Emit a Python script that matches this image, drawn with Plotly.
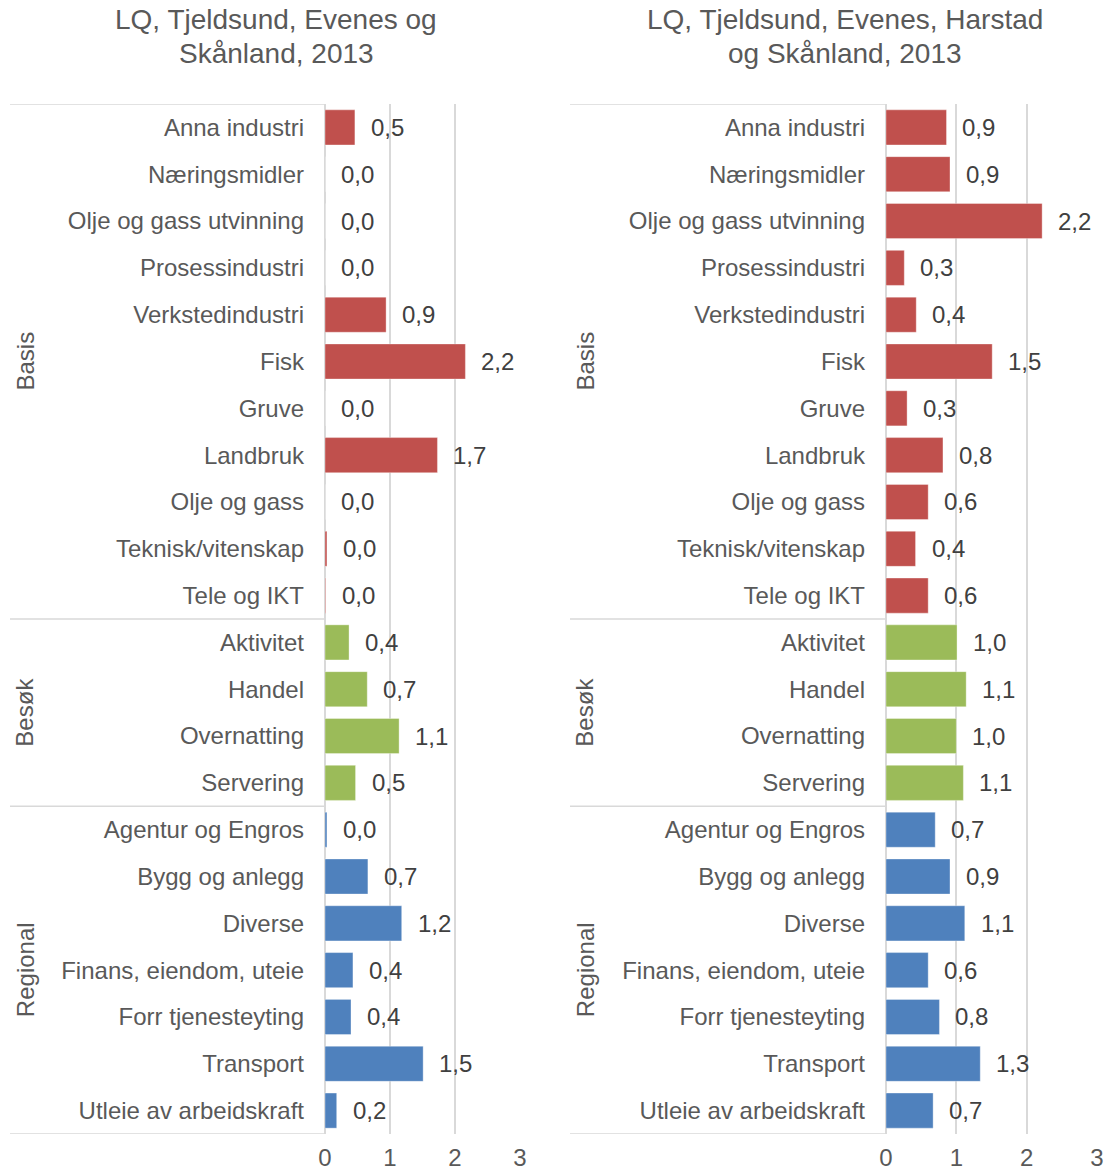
import plotly.graph_objects as go

W, H = 1105, 1171

categories = [
    "Anna industri", "Næringsmidler", "Olje og gass utvinning", "Prosessindustri",
    "Verkstedindustri", "Fisk", "Gruve", "Landbruk", "Olje og gass",
    "Teknisk/vitenskap", "Tele og IKT",
    "Aktivitet", "Handel", "Overnatting", "Servering",
    "Agentur og Engros", "Bygg og anlegg", "Diverse", "Finans, eiendom, uteie",
    "Forr tjenesteyting", "Transport", "Utleie av arbeidskraft",
]
groups = ["Basis"] * 11 + ["Besøk"] * 4 + ["Regional"] * 7
group_names = ["Basis", "Besøk", "Regional"]
group_colors = {"Basis": "#C0504D", "Besøk": "#9BBB59", "Regional": "#4F81BD"}

values_left = [0.46, 0.0, 0.0, 0.0, 0.94, 2.16, 0.0, 1.73, 0.0, 0.03, 0.01,
               0.37, 0.65, 1.14, 0.47,
               0.03, 0.66, 1.18, 0.43, 0.40, 1.51, 0.18]
values_right = [0.86, 0.91, 2.22, 0.26, 0.43, 1.51, 0.30, 0.81, 0.60, 0.42, 0.60,
                1.01, 1.14, 1.00, 1.10,
                0.70, 0.91, 1.12, 0.60, 0.76, 1.34, 0.67]

title_left = ["LQ, Tjeldsund, Evenes og", "Skånland, 2013"]
title_right = ["LQ, Tjeldsund, Evenes, Harstad", "og Skånland, 2013"]
x_ticks = [0, 1, 2, 3]

FONT = "Liberation Sans, Arial, sans-serif"
GRID = "#D9D9D9"
TXT = "#595959"
LBL = "#404040"

# pixel geometry
top_px, bot_px = 104, 1134
panels = [
    dict(x0=325, x1=520, lab0=10, grp=25, tc=276, vals=values_left, title=title_left),
    dict(x0=886, x1=1097, lab0=570, grp=585, tc=845, vals=values_right, title=title_right),
]

def fmt(v):
    return f"{v:.1f}".replace(".", ",")

fig = go.Figure()
annotations = []
shapes = []
n = len(categories)

for i, p in enumerate(panels):
    sfx = "" if i == 0 else str(i + 1)
    xa, ya = "x" + sfx, "y" + sfx
    fig.add_trace(go.Bar(
        x=p["vals"], y=categories, orientation="h",
        marker=dict(color=[group_colors[g] for g in groups],
                    line=dict(color="rgba(255,255,255,0.35)", width=1)),
        xaxis=xa, yaxis=ya, showlegend=False, hoverinfo="x+y",
    ))
    axis_x = dict(
        domain=[p["x0"] / W, p["x1"] / W], range=[0, 3], anchor=ya,
        tickvals=x_ticks, ticktext=[str(t) for t in x_ticks],
        showgrid=True, gridcolor=GRID, gridwidth=1.5,
        zeroline=True, zerolinecolor=GRID, zerolinewidth=1.5,
        showline=False, ticks="", ticklabelstandoff=7,
        tickfont=dict(size=24, color=TXT, family=FONT), automargin=False,
    )
    axis_y = dict(
        domain=[1 - bot_px / H, 1 - top_px / H], anchor=xa,
        type="category", categoryorder="array", categoryarray=categories,
        range=[n - 0.5, -0.5], showgrid=False, zeroline=False, showline=False,
        ticks="", ticklabelstandoff=20,
        tickfont=dict(size=24, color=TXT, family=FONT), automargin=False,
    )
    fig.update_layout(**{"xaxis" + sfx: axis_x, "yaxis" + sfx: axis_y})

    # data labels
    for c, v in zip(categories, p["vals"]):
        annotations.append(dict(
            x=v, y=c, xref=xa, yref=ya, text=fmt(v), showarrow=False,
            xanchor="left", yanchor="middle", xshift=14,
            font=dict(size=24, color=LBL, family=FONT),
        ))
    # group labels and separators
    bounds = []
    start = 0
    for g in group_names:
        cnt = groups.count(g)
        center = start + (cnt - 1) / 2
        annotations.append(dict(
            x=p["grp"] / W, y=center, xref="paper", yref=ya, text=g,
            showarrow=False, textangle=-90, xanchor="center", yanchor="middle",
            font=dict(size=24, color=TXT, family=FONT),
        ))
        bounds.append(start - 0.5)
        start += cnt
    bounds.append(start - 0.5)
    for b in bounds:
        shapes.append(dict(
            type="line", xref="paper", yref=ya, x0=p["lab0"] / W, x1=p["x0"] / W,
            y0=b, y1=b, line=dict(color=GRID, width=1.5), layer="below",
        ))
    # titles
    for k, (line, py) in enumerate(zip(p["title"], [20, 53])):
        annotations.append(dict(
            x=p["tc"] / W, y=1 - py / H, xref="paper", yref="paper", text=line,
            showarrow=False, xanchor="center", yanchor="middle",
            font=dict(size=28, color=TXT, family=FONT),
        ))

fig.update_layout(
    width=W, height=H, margin=dict(l=0, r=0, t=0, b=0),
    paper_bgcolor="white", plot_bgcolor="white",
    bargap=0.25, annotations=annotations, shapes=shapes,
    font=dict(family=FONT, color=TXT),
)

fig.write_html(
    "out.html",
    config={"displayModeBar": False},
    post_script="document.body.style.margin='0';document.body.style.overflow='hidden';",
)
